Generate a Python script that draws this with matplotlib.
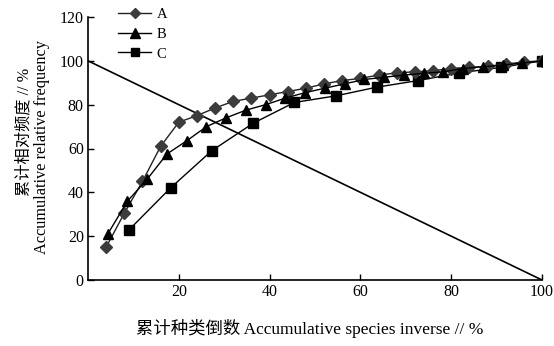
import matplotlib
matplotlib.use("Agg")
import matplotlib.pyplot as plt
import numpy as np

# ---- data ----
a_x = [4, 8, 12, 16, 20, 24, 28, 32, 36, 40, 44, 48, 52, 56, 60, 64, 68, 72, 76, 80, 84, 88, 92, 96, 100]
a_y = [15, 30.5, 45, 61, 72, 75, 78.5, 81.5, 83, 84.5, 86, 87.5, 89.5, 91, 92, 93.5, 94.5, 95, 95.5, 96.5, 97, 97.5, 98.5, 99.5, 100]

b_x = [4.35, 8.7, 13.04, 17.39, 21.74, 26.09, 30.43, 34.78, 39.13, 43.48, 47.83, 52.17,
       56.52, 60.87, 65.22, 69.57, 73.91, 78.26, 82.61, 86.96, 91.3, 95.65, 100]
b_y = [21, 36, 46, 57.5, 63.5, 70, 74, 77.5, 80, 83, 85.5, 87.5,
       89.5, 91.5, 92.5, 93.5, 94.3, 95, 96.5, 97.3, 98, 99, 100]

c_x = [9.09, 18.18, 27.27, 36.36, 45.45, 54.55, 63.64, 72.73, 81.82, 90.91, 100]
c_y = [23, 42, 59, 71.5, 81, 84, 88, 91, 94.5, 97, 100]

diag_x = [0, 100]
diag_y = [100, 0]

series_labels = ["A", "B", "C"]
x_ticks = [20, 40, 60, 80, 100]
y_ticks = [0, 20, 40, 60, 80, 100, 120]

xlabel_text = "累计种类倒数 Accumulative species inverse // %"
ylabel_cn = "累计相对频度 // %"
ylabel_en = "Accumulative relative frequency"

LAT = ["Liberation Serif", "Noto Sans CJK SC"]
plt.rcParams['font.family'] = LAT

fig = plt.figure(figsize=(5.54, 3.46), dpi=100)
W, H = 554, 346
ax = fig.add_axes([88 / W, 1 - 280 / H, (542 - 88) / W, (280 - 17) / H])

ax.plot(diag_x, diag_y, color="black", lw=1.2, zorder=1)
ax.plot(a_x, a_y, color="#222222", lw=1.0, marker="D", ms=6.2, mfc="#3c3c3c", mec="#3c3c3c",
        label=series_labels[0], zorder=3)
ax.plot(b_x, b_y, color="black", lw=1.0, marker="^", ms=7.5, mfc="black", mec="black",
        label=series_labels[1], zorder=3)
ax.plot(c_x, c_y, color="black", lw=1.0, marker="s", ms=6.5, mfc="black", mec="black",
        label=series_labels[2], zorder=2)

ax.set_xlim(0, 100)
ax.set_ylim(0, 120)
ax.set_xticks(x_ticks)
ax.set_yticks(y_ticks)
for s in ["top", "right"]:
    ax.spines[s].set_visible(False)
for s in ["left", "bottom"]:
    ax.spines[s].set_linewidth(1.2)
ax.tick_params(direction="in", length=4, width=1.0, labelsize=11.5, pad=3)
for lab in ax.get_xticklabels() + ax.get_yticklabels():
    lab.set_family(LAT)

leg = fig.legend(loc="upper left", bbox_to_anchor=(112 / W, 1 - 2 / H), frameon=False,
                 prop={"family": LAT, "size": 10.5}, handlelength=2.3, handletextpad=0.35,
                 labelspacing=0.45, borderaxespad=0, markerscale=0.9)

fig.text(310 / W, 1 - 328 / H, xlabel_text, ha="center", va="center", fontsize=12.5, family=LAT)
fig.text(24 / W, 1 - 132 / H, ylabel_cn, ha="center", va="center", rotation=90, fontsize=11.7, family=LAT)
fig.text(42 / W, 1 - 147 / H, ylabel_en, ha="center", va="center", rotation=90, fontsize=11.7, family=LAT)

fig.savefig("out.png", dpi=100)
